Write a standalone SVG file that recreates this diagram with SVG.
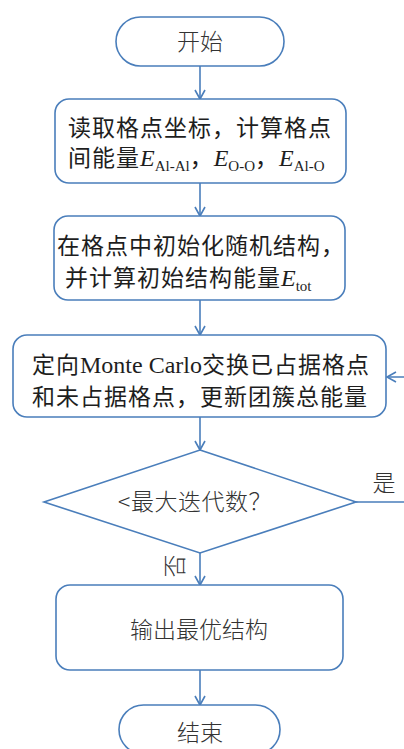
<svg xmlns="http://www.w3.org/2000/svg" width="404" height="749" viewBox="0 0 404 749">
<style>
.shape{fill:#ffffff;stroke:#4a7ebb;stroke-width:1.6}
.conn{fill:none;stroke:#4a7ebb;stroke-width:1.6}
.t{font-family:"Liberation Serif","Noto Sans CJK SC",serif;font-size:23px;letter-spacing:1px;fill:#1e1e1e}
.lat{font-family:"Liberation Serif",serif;letter-spacing:0}
.it{font-family:"Liberation Serif",serif;font-style:italic;font-size:24px;letter-spacing:0}
.sub{font-family:"Liberation Serif",serif;font-size:15px;letter-spacing:0}
.s{font-family:"Noto Sans CJK SC","Noto Sans",sans-serif;font-size:23px;fill:#333333;font-weight:300}
</style>
<defs>
<marker id="arr" markerUnits="userSpaceOnUse" markerWidth="14" markerHeight="14" refX="10" refY="6" orient="auto">
<path d="M1,1 L10,6 L1,11" fill="none" stroke="#4a7ebb" stroke-width="1.6"/>
</marker>
</defs>
<g id="connectors">
<line class="conn" x1="200" y1="66" x2="200" y2="99" marker-end="url(#arr)"/>
<line class="conn" x1="200" y1="183" x2="200" y2="216" marker-end="url(#arr)"/>
<line class="conn" x1="200" y1="300" x2="200" y2="335" marker-end="url(#arr)"/>
<line class="conn" x1="200" y1="417" x2="200" y2="450" marker-end="url(#arr)"/>
<line class="conn" x1="200" y1="553" x2="200" y2="585" marker-end="url(#arr)"/>
<line class="conn" x1="200" y1="670" x2="200" y2="705" marker-end="url(#arr)"/>
<path class="conn" d="M356,502 H414 V377 H387" marker-end="url(#arr)"/>
<text class="s" x="384" y="491" text-anchor="middle" font-size="22">是</text>
<text class="s" x="0" y="0" text-anchor="middle" font-size="21" transform="translate(183,566) rotate(-90)">否</text>
</g>
<g id="start">
<rect class="shape" x="116" y="17" width="168" height="49" rx="24.5"/>
<text class="s" x="200" y="50" text-anchor="middle">开始</text>
</g>
<g id="read">
<rect class="shape" x="55" y="99" width="291" height="84" rx="14"/>
<text class="t" x="68" y="136">读取格点坐标，计算格点</text>
<text class="t" x="68" y="166">间能量<tspan class="it">E</tspan><tspan class="sub" dy="5">Al-Al</tspan><tspan dy="-5">，</tspan><tspan class="it">E</tspan><tspan class="sub" dy="5">O-O</tspan><tspan dy="-5">，</tspan><tspan class="it">E</tspan><tspan class="sub" dy="5">Al-O</tspan></text>
</g>
<g id="init">
<rect class="shape" x="54" y="216" width="291" height="84" rx="14"/>
<text class="t" x="57" y="254">在格点中初始化随机结构，</text>
<text class="t" x="65" y="286">并计算初始结构能量<tspan class="it">E</tspan><tspan class="sub" dy="5">tot</tspan></text>
</g>
<g id="mc">
<rect class="shape" x="13" y="335" width="373" height="82" rx="14"/>
<text class="t" x="32" y="373">定向<tspan class="lat" font-size="24">Monte Carlo</tspan>交换已占据格点</text>
<text class="t" x="32" y="405">和未占据格点，更新团簇总能量</text>
</g>
<g id="decision">
<polygon class="shape" points="200,450 356,502 200,553 44,502"/>
<text class="s" x="195" y="510" text-anchor="middle" font-size="24" letter-spacing="0.5">&lt;最大迭代数？</text>
</g>
<g id="output">
<rect class="shape" x="56" y="585" width="287" height="85" rx="14"/>
<text class="s" x="199" y="638" text-anchor="middle" font-size="24">输出最优结构</text>
</g>
<g id="end">
<rect class="shape" x="119" y="705" width="161" height="49" rx="24.5"/>
<text class="s" x="200" y="741" text-anchor="middle">结束</text>
</g>
</svg>
